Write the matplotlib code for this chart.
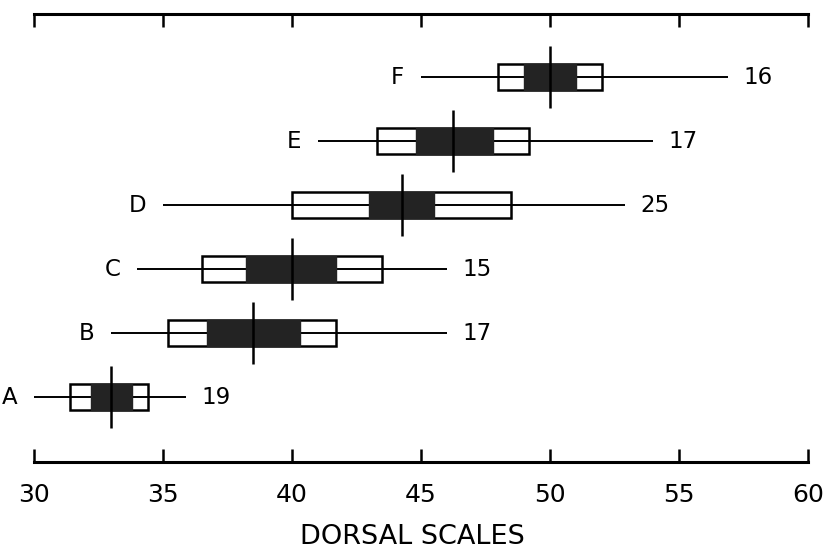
import matplotlib
matplotlib.use("Agg")
import matplotlib.pyplot as plt
from matplotlib.patches import Rectangle

groups = ['A', 'B', 'C', 'D', 'E', 'F']
range_min = [30.0, 33.0, 34.0, 35.0, 41.0, 45.0]
range_max = [35.9, 46.0, 46.0, 52.9, 54.0, 56.9]
sd_low = [31.4, 35.2, 36.5, 40.0, 43.3, 48.0]
sd_high = [34.4, 41.7, 43.5, 48.5, 49.2, 52.0]
se_low = [32.2, 36.7, 38.2, 43.0, 44.8, 49.0]
se_high = [33.8, 40.3, 41.7, 45.5, 47.8, 51.0]
means = [33.0, 38.5, 40.0, 44.25, 46.25, 50.0]
counts = [19, 17, 15, 25, 17, 16]
xticks = [30, 35, 40, 45, 50, 55, 60]
xlabel = 'DORSAL SCALES'

plt.rcParams['font.family'] = ['DejaVu Sans']
fig = plt.figure(figsize=(8.29, 5.51), dpi=100)
ax = fig.add_axes([34/829, (551-462)/551, 774/829, 448/551])

box_h = 0.42
mean_h = 0.97
dark = '#232323'
for i, g in enumerate(groups):
    y = i + 1
    ax.add_patch(Rectangle((sd_low[i], y - box_h/2), sd_high[i] - sd_low[i], box_h,
                           facecolor='white', edgecolor='black', lw=1.8, zorder=1))
    ax.plot([range_min[i], range_max[i]], [y, y], color='black', lw=1.4, zorder=2,
            solid_capstyle='butt', clip_on=False)
    ax.add_patch(Rectangle((se_low[i], y - box_h/2), se_high[i] - se_low[i], box_h,
                           facecolor=dark, edgecolor=dark, lw=1.0, zorder=3))
    ax.plot([means[i], means[i]], [y - mean_h/2, y + mean_h/2], color='black', lw=1.8,
            zorder=4, solid_capstyle='butt')
    ax.annotate(g, (range_min[i], y), xytext=(-12, 0), textcoords='offset points',
                ha='right', va='center', fontsize=16.5, annotation_clip=False)
    ax.annotate(str(counts[i]), (range_max[i], y), xytext=(11, 0), textcoords='offset points',
                ha='left', va='center', fontsize=16.5, annotation_clip=False)

ax.set_xlim(30, 60)
ax.set_ylim(1 - 65/64, 6 + 63/64)
ax.set_yticks([])
ax.set_xticks(xticks)
ax.set_xticklabels([str(t) for t in xticks])
for s in ['left', 'right']:
    ax.spines[s].set_visible(False)
for s in ['top', 'bottom']:
    ax.spines[s].set_linewidth(2.2)
ax.tick_params(axis='x', which='both', direction='in', length=9.5, width=1.8,
               top=True, bottom=True, labeltop=False, labelbottom=True,
               labelsize=18, pad=15)
ax.set_xlabel(xlabel, fontsize=19.5, labelpad=12.5, x=0.489)

fig.savefig('out.png', dpi=100)
